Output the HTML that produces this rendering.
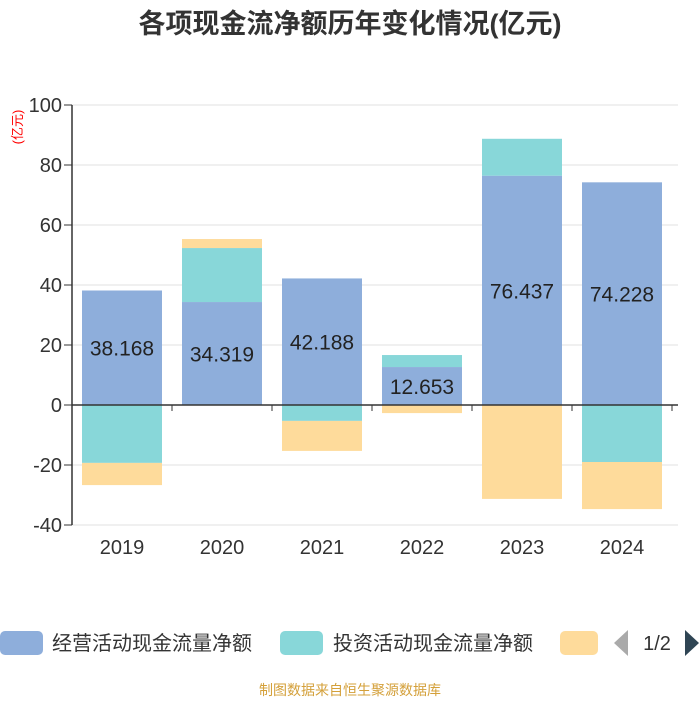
<!DOCTYPE html>
<html><head><meta charset="utf-8"><style>
body{margin:0;background:#fff;width:700px;height:700px;overflow:hidden}
svg text{font-family:"Liberation Sans","Noto Sans CJK SC",sans-serif}
</style></head><body>
<svg width="700" height="700">
<text x="350" y="33" text-anchor="middle" font-size="27" font-weight="bold" fill="#333">各项现金流净额历年变化情况(亿元)</text>
<text transform="translate(22,127) rotate(-90)" text-anchor="middle" font-size="13" fill="#f00">(亿元)</text>
<g id="grid"></g>
<g id="bars"></g>
<g id="axes"></g>
<g>
<rect x="0" y="631" width="43" height="24" rx="5" fill="#8eaedb"/>
<text x="52" y="650" font-size="20" fill="#333">经营活动现金流量净额</text>
<rect x="280" y="631" width="43" height="24" rx="5" fill="#88d7d9"/>
<text x="333" y="650" font-size="20" fill="#333">投资活动现金流量净额</text>
<rect x="560" y="631" width="38" height="24" rx="5" fill="#fedb9b"/>
<polygon points="628,630 628,656 614,643" fill="#aaa"/>
<text x="657" y="650" text-anchor="middle" font-size="20" fill="#333">1/2</text>
<polygon points="685,630 685,656 699,643" fill="#2f4554"/>
</g>
<text x="350" y="695" text-anchor="middle" font-size="14" fill="#d4a03a">制图数据来自恒生聚源数据库</text>
</svg>
<script>
const categories=["2019","2020","2021","2022","2023","2024"];
const operating=[38.168,34.319,42.188,12.653,76.437,74.228];
const investing=[-19.3,18.0,-5.3,4.0,12.3,-19.0];
const financing=[-7.4,3.0,-10.0,-2.7,-31.3,-15.7];
const yTicks=[100,80,60,40,20,0,-20,-40];
const NS="http://www.w3.org/2000/svg";
const x0=72,x1=678,yTop=105,yMax=100,yMin=-40,yBot=525;
const y=v=>yTop+(yMax-v)*(yBot-yTop)/(yMax-yMin);
const bw=100;
function mk(t,a,p){const e=document.createElementNS(NS,t);for(const k in a)e.setAttribute(k,a[k]);p.appendChild(e);return e;}
const grid=document.getElementById('grid'),bars=document.getElementById('bars'),axes=document.getElementById('axes');
yTicks.forEach(v=>{
 if(v!==0){const l=mk('line',{x1:x0,x2:x1,y1:y(v),y2:y(v),stroke:'#e0e0e0','stroke-width':1},grid);
 
 }
 const t=mk('line',{x1:x0-8,x2:x0,y1:y(v),y2:y(v),stroke:'#333','stroke-width':1},axes);
 
 
 const tx=mk('text',{x:x0-10,y:y(v)+7,'text-anchor':'end','font-size':20,fill:'#333'},axes);
 tx.textContent=v;
 
 
});
const series=[[operating,'#8eaedb','operating'],[investing,'#88d7d9','investing'],[financing,'#fedb9b','financing']];
categories.forEach((c,i)=>{
 let pos=0,neg=0;const bx=x0+i*bw+10,w=bw-20;
 series.forEach(([arr,col,nm])=>{
  const v=arr[i];let a,b;
  if(v>=0){a=pos;b=pos+v;pos=b;}else{a=neg;b=neg+v;neg=b;}
  const r=mk('rect',{x:bx,y:Math.min(y(a),y(b)),width:w,height:Math.abs(y(a)-y(b)),fill:col},bars);
  
  
 });
 const lb=mk('text',{x:bx+w/2,y:y(operating[i]/2)+8,'text-anchor':'middle','font-size':21,fill:'#222'},bars);
 lb.textContent=operating[i].toFixed(3);
 
 
 const xl=mk('text',{x:x0+(i+0.5)*bw,y:554,'text-anchor':'middle','font-size':20,fill:'#333'},axes);
 xl.textContent=c;
 
 
});
for(let i=0;i<=categories.length;i++){
 const t=mk('line',{x1:x0+i*bw,x2:x0+i*bw,y1:y(0),y2:y(0)+6,stroke:'#333'},axes);
 
 
}
const ya=mk('line',{x1:x0,x2:x0,y1:yTop,y2:yBot,stroke:'#333','stroke-width':1.5},axes);


const xa=mk('line',{x1:x0,x2:x1,y1:y(0),y2:y(0),stroke:'#333','stroke-width':1.5},axes);


</script>
</body></html>
